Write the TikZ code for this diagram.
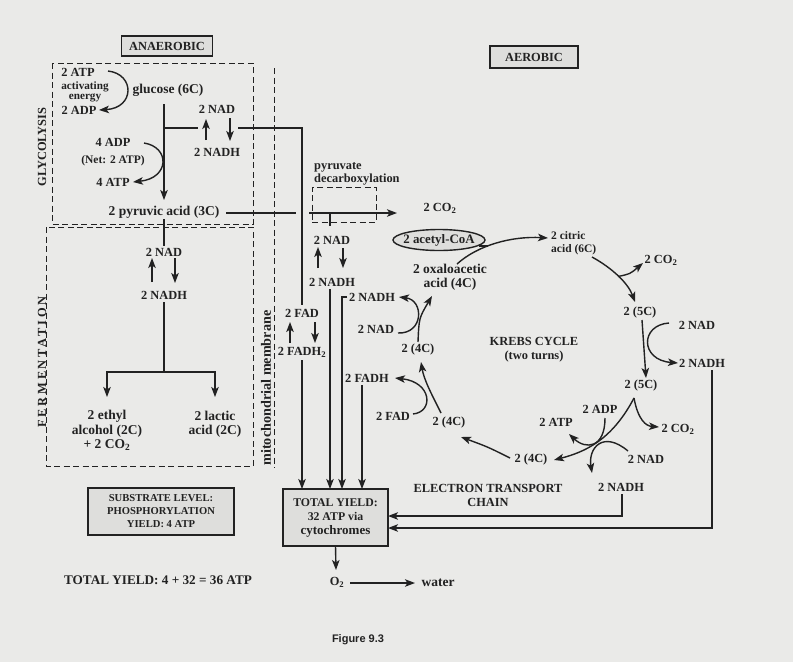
\documentclass[tikz,border=0pt]{standalone}
\usepackage{fontspec}
\setmainfont{Liberation Serif}
\newfontfamily\figfont{Liberation Sans}
\usetikzlibrary{arrows.meta}
\definecolor{ink}{RGB}{34,34,34}
\definecolor{paper}{RGB}{234,234,232}
\definecolor{boxfill}{RGB}{222,222,220}
\tikzset{
  lbl/.style={font=\bfseries\fontsize{12.4}{14.2}\selectfont, text=ink, inner sep=1pt},
  lblL/.style={font=\bfseries\fontsize{13.5}{14.5}\selectfont, text=ink, inner sep=1pt},
  lblM/.style={font=\bfseries\fontsize{14.2}{15}\selectfont, text=ink, inner sep=1pt},
  lblS/.style={font=\bfseries\fontsize{11.5}{13}\selectfont, text=ink, inner sep=1pt},
  lblXS/.style={font=\bfseries\fontsize{11.2}{10}\selectfont, text=ink, inner sep=1pt},
  lblB/.style={font=\bfseries\fontsize{10.6}{13}\selectfont, text=ink, inner sep=1pt},
  lblT/.style={font=\bfseries\fontsize{11.8}{14}\selectfont, text=ink, inner sep=1pt},
  ln/.style={draw=ink, line width=1.4pt},
  arr/.style={ln, -{Stealth[length=10pt,width=7.5pt,inset=2.5pt]}},
  dbox/.style={draw=ink, line width=0.9pt, dash pattern=on 6pt off 3.5pt},
  tbox/.style={draw=ink, line width=1.4pt, fill=boxfill},
}
\begin{document}
\begin{tikzpicture}[x=1pt,y=-1pt]
\fill[paper] (0,0) rectangle (793,662);
\useasboundingbox (0,0) rectangle (793,662);

% ---------- regions ----------
\draw[dbox] (52,63) rectangle (253,224);
\draw[dbox] (46,227) rectangle (253,466);
\draw[dbox] (274,68) -- (274,468);

% ---------- titles and side labels ----------
\node[lbl,tbox,minimum width=91,minimum height=20,inner sep=2pt] (anaer) at (167,46) {ANAEROBIC};
\node[lbl,tbox,minimum width=88,minimum height=22,inner sep=2pt] (aer) at (534,57) {AEROBIC};
\node[lbl,rotate=90] (glyc) at (42,147) {GLYCOLYSIS};
\node[lbl,rotate=90] (ferm) at (42,362) {\addfontfeatures{LetterSpace=22}FERMENTATION};
\node[lblM,rotate=90] (mito) at (266,388) {mitochondrial membrane};

% ---------- glycolysis nodes ----------
\node[lbl] (atp2) at (78,72) {2 ATP};
\node[lblXS,align=center] (acten) at (85,92) {activating\\energy};
\node[lbl] (adp2) at (79,110) {2 ADP};
\node[lblL] (glucose) at (168,90) {glucose (6C)};
\node[lbl] (gnad) at (217,109) {2 NAD};
\node[lbl] (gnadh) at (217,152) {2 NADH};
\node[lbl] (adp4) at (113,142) {4 ADP};
\node[lblS] (net) at (113,161) {(Net: 2 ATP)};
\node[lbl] (atp4) at (113,182) {4 ATP};
\node[lblL] (pyr) at (164,212) {2 pyruvic acid (3C)};

% ---------- fermentation nodes ----------
\node[lbl] (fnad) at (164,252) {2 NAD};
\node[lbl] (fnadh) at (164,295) {2 NADH};
\node[lblL,align=center] (eth) at (107,430.5) {2 ethyl\\alcohol (2C)\\+ 2 CO\textsubscript{2}};
\node[lblL,align=center] (lac) at (215,424) {2 lactic\\acid (2C)};

% ---------- pyruvate decarboxylation ----------
\node[dbox,minimum width=64,minimum height=35,inner sep=0] (pdbox) at (344,204.5) {};
\node[lblL,align=left,anchor=west,font=\bfseries\fontsize{12.4}{13}\selectfont] (pdlbl) at (313,173.5) {pyruvate\\decarboxylation};
\node[lbl] (co2a) at (440,208) {2 CO\textsubscript{2}};
\node[lbl] (pnad) at (332,240) {2 NAD};
\node[lbl] (pnadh) at (332,282) {2 NADH};
\node[lbl] (fad) at (302,313) {2 FAD};
\node[lbl] (fadh2) at (302,352) {2 FADH\textsubscript{2}};

% ---------- Krebs cycle nodes ----------
\coordinate (acoaC) at (439,240);
\draw[ln,fill=boxfill] (acoaC) ellipse [x radius=46, y radius=10.5];
\node[lblL,font=\bfseries\fontsize{12.9}{14}\selectfont] (acoa) at (acoaC) {2 acetyl-CoA};
\node[lblL,align=center] (oxa) at (450,277) {2 oxaloacetic\\acid (4C)};
\node[lblS,align=left,anchor=west] (cit) at (550,243.5) {2 citric\\acid (6C)};
\node[lbl] (co2b) at (661,260) {2 CO\textsubscript{2}};
\node[lbl] (c5a) at (640,313) {2 (5C)};
\node[lbl] (rnad) at (697,325) {2 NAD};
\node[lbl] (rnadh) at (702,363) {2 NADH};
\node[lbl] (c5b) at (641,386) {2 (5C)};
\node[lbl] (co2c) at (678,429) {2 CO\textsubscript{2}};
\node[lbl] (eadp) at (600,409) {2 ADP};
\node[lbl] (eatp) at (556,422) {2 ATP};
\node[lbl] (enad) at (646,459) {2 NAD};
\node[lbl] (enadh) at (621,487) {2 NADH};
\node[lbl] (c4c) at (531,460) {2 (4C)};
\node[lbl] (c4b) at (449,423) {2 (4C)};
\node[lbl] (kfad) at (393,416) {2 FAD};
\node[lbl] (kfadh) at (367,378) {2 FADH};
\node[lbl] (c4a) at (418,350) {2 (4C)};
\node[lbl] (knad) at (376,329) {2 NAD};
\node[lbl] (knadh) at (372,297) {2 NADH};
\node[lbl,align=center] (krebs) at (534,350) {KREBS CYCLE\\(two turns)};
\node[lbl,align=center] (etc) at (488,495.5) {ELECTRON TRANSPORT\\CHAIN};

% ---------- yields ----------
\node[lblT,tbox,align=center,minimum width=105,minimum height=57,inner sep=2pt] (tot) at (335.5,517.5) {TOTAL YIELD:\\32 ATP via\\{\fontsize{13}{14}\selectfont cytochromes}};
\node[lblB,tbox,align=center,minimum width=146,minimum height=47,inner sep=2pt] (sub) at (161,511.5) {SUBSTRATE LEVEL:\\PHOSPHORYLATION\\YIELD: 4 ATP};
\node[lbl,font=\bfseries\fontsize{13.2}{14}\selectfont] (toty) at (158,580) {TOTAL YIELD: 4 + 32 = 36 ATP};
\node[lbl] (o2) at (337,582) {O\textsubscript{2}};
\node[lblL] (water) at (438,583) {water};
\node[font=\figfont\bfseries\fontsize{11}{13}\selectfont, text=ink] (fig) at (358,640) {Figure 9.3};

% ---------- glycolysis connectors ----------
\draw[arr] ([shift={(30,-1)}]atp2.center) .. controls (135,74) and (135,108) .. ([shift={(20,0)}]adp2.center);
\draw[arr] ([shift={(-4,14)}]glucose.center) -- ([shift={(0,-12)}]pyr.center);
\coordinate (gj1) at (164,128);
\coordinate (gj2) at (198,128);
\coordinate (gj3) at (238,128);
\coordinate (gj4) at (302,128);
\draw[ln] (gj1) -- (gj2);
\draw[arr] ([shift={(-11,-12)}]gnadh.center) -- ([shift={(-11,10)}]gnad.center);
\draw[arr] ([shift={(13,9)}]gnad.center) -- ([shift={(13,-11)}]gnadh.center);
\draw[arr] ([shift={(31,1)}]adp4.center) .. controls (170,147) and (170,178) .. ([shift={(20,0)}]atp4.center);

% ---------- fermentation connectors ----------
\draw[ln] ([shift={(0,7)}]pyr.center) -- ([shift={(0,-6)}]fnad.center);
\draw[arr] ([shift={(-12,-13)}]fnadh.center) -- ([shift={(-12,6)}]fnad.center);
\draw[arr] ([shift={(11,6)}]fnad.center) -- ([shift={(11,-12)}]fnadh.center);
\coordinate (fj) at (164,372);
\draw[ln] ([shift={(0,7)}]fnadh.center) -- (fj);
\draw[arr] (fj) -| ([shift={(0,-33.5)}]eth.center);
\draw[arr] (fj) -| ([shift={(0,-27)}]lac.center);

% ---------- pyruvate to mitochondrion ----------
\coordinate (pyA) at (296,213);
\coordinate (pyB) at (309,213);
\coordinate (pyE) at (397,213);
\draw[ln] ([shift={(62,1)}]pyr.center) -- (pyA);
\draw[arr] (pyB) -- (pyE);
\coordinate (pdj) at (330,213);
\coordinate (pdk) at (330,226);
\draw[ln] (pdj) -- (pdk);
\draw[arr] ([shift={(-14,-14)}]pnadh.center) -- ([shift={(-14,7)}]pnad.center);
\draw[arr] ([shift={(11,8)}]pnad.center) -- ([shift={(11,-14)}]pnadh.center);

% ---------- carriers to total yield ----------
\draw[ln] (gj3) -- (gj4) -- ([shift={(0,-8)}]fad.center);
\draw[arr] ([shift={(-12,-9)}]fadh2.center) -- ([shift={(-12,9)}]fad.center);
\draw[arr] ([shift={(13,9)}]fad.center) -- ([shift={(13,-9)}]fadh2.center);
\draw[arr] ([shift={(0,8)}]fadh2.center) -- ([shift={(-33.5,-28.5)}]tot.center);
\draw[arr] ([shift={(-2,7)}]pnadh.center) -- ([shift={(-5.5,-28.5)}]tot.center);
\draw[arr] ([shift={(-25,0)}]knadh.center) -| ([shift={(6.5,-28.5)}]tot.center);
\draw[arr] ([shift={(-5,7)}]kfadh.center) -- ([shift={(26.5,-28.5)}]tot.center);
\draw[arr] ([shift={(1,7)}]enadh.center) |- ([shift={(52.5,-1.5)}]tot.center);
\draw[arr] ([shift={(10,7)}]rnadh.center) |- ([shift={(52.5,10.5)}]tot.center);

% ---------- Krebs cycle connectors ----------
\coordinate (lj) at (488,246);
\draw[arr] ([shift={(7,-13)}]oxa.center) .. controls (478,245) and (512,236) .. ([shift={(-2,-5.5)}]cit.west);
\draw[ln] ([shift={(40,6)}]acoa.center) -- (lj);
\draw[arr] ([shift={(42,13.5)}]cit.west) .. controls (612,268) and (628,283) .. ([shift={(-5,-11)}]c5a.center);
\coordinate (nbr) at (618,276.5);
\draw[arr] (nbr) .. controls (630,274) .. ([shift={(-18,3)}]co2b.center);
\draw[arr] ([shift={(2,7)}]c5a.center) -- ([shift={(5,-8)}]c5b.center);
\draw[arr] ([shift={(-28,-2)}]rnad.center) .. controls (640,325) and (640,360) .. ([shift={(-24,0)}]rnadh.center);
\draw[arr] ([shift={(-7,12)}]c5b.center) .. controls (612,440) and (585,452) .. ([shift={(23,0)}]c4c.center);
\draw[arr] ([shift={(-7,12)}]c5b.center) .. controls (638,420) and (646,426) .. ([shift={(-19,-2)}]co2c.center);
\draw[arr] ([shift={(5,9)}]eadp.center) .. controls (605,448) and (586,450) .. ([shift={(13,12)}]eatp.center);
\draw[arr] ([shift={(-18,-8)}]enad.center) .. controls (603,430) and (588,448) .. ([shift={(-29,-14)}]enadh.center);
\draw[arr] ([shift={(-21,-2)}]c4c.center) .. controls (488,447) .. ([shift={(12,14)}]c4b.center);
\draw[arr] ([shift={(-8,-10)}]c4b.center) .. controls (432,395) and (424,380) .. ([shift={(3,12)}]c4a.center);
\draw[arr] ([shift={(20,-2)}]kfad.center) .. controls (434,412) and (432,382) .. ([shift={(28,0)}]kfadh.center);
\draw[arr] ([shift={(0,-8)}]c4a.center) .. controls (419,318) .. ([shift={(-18,19)}]oxa.center);
\draw[arr] ([shift={(22,4)}]knad.center) .. controls (424,334) and (424,300) .. ([shift={(27,0)}]knadh.center);

% ---------- oxygen ----------
\draw[arr] ([shift={(0,28.5)}]tot.center) -- ([shift={(-1,-12)}]o2.center);
\draw[arr] ([shift={(13,1)}]o2.center) -- ([shift={(-23,0)}]water.center);
\end{tikzpicture}
\end{document}
